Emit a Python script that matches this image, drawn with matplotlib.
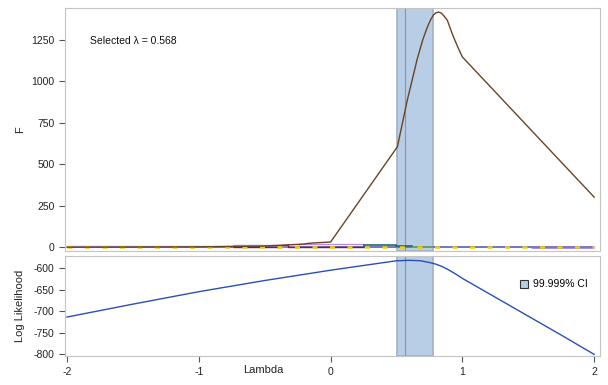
import numpy as np
import matplotlib.pyplot as plt
from matplotlib.patches import Patch

plt.rcParams['font.family'] = ['Liberation Sans', 'DejaVu Sans']
plt.rcParams['axes.unicode_minus'] = False

# selected lambda and 99.999% confidence interval
lam_sel = 0.568
ci_low, ci_high = 0.507, 0.78

# F statistic along lambda
lam_f = [-2, -1, -0.5, -0.2, -0.17, -0.1, 0, 0.507, 0.582, 0.62, 0.658, 0.7,
         0.734, 0.76, 0.78, 0.80, 0.82, 0.84, 0.86, 0.886, 0.93, 0.965, 1.0,
         2.0]
f_vals = [1, 3, 8, 20, 24, 28, 32, 605, 886, 1010, 1135, 1250,
          1325, 1370, 1397, 1411, 1415, 1409, 1392, 1365, 1270, 1205, 1145,
          302]

# small step series of the other effects (near zero)
violet_edges = [-2, -1.5, -0.74, -0.39, -0.24, 0.25]
violet_vals = [6, 9, 15, 11, 19]
purple_edges = [1.52, 2.0]
purple_vals = [5]
red_edges = [-0.74, -0.38, -0.32, 0.25]
red_vals = [3, 12, 3]
teal_edges = [0.25, 0.5, 0.58, 0.62]
teal_vals = [15, 10, 7]
green_edges = [0.62, 0.78]
green_vals = [4]
base_edges = [-2, 2]
base_vals = [2]
yellow_edges = [-2, 2]
yellow_vals = [0.5]

# profile log likelihood
lam_ll = [-2, -1.5, -1, -0.5, 0, 0.25, 0.5, 0.6, 0.68, 0.75, 0.8, 0.85,
          0.9, 0.95, 1.0, 1.25, 1.5, 1.75, 2]
ll_vals = [-713, -683, -654, -628, -604, -593, -582, -581, -582, -586,
           -590, -596, -604, -613, -623, -667, -711, -755, -800]

band_col = '#b8cde6'
band_edge = '#a3b1c4'
frame_col = '#c4c4c4'

fig = plt.figure(figsize=(6.08, 3.85), dpi=100)
ax1 = fig.add_axes([0.107, 0.348, 0.880, 0.631])
ax2 = fig.add_axes([0.107, 0.075, 0.880, 0.260])

for ax in (ax1, ax2):
    ax.axvspan(ci_low, ci_high, facecolor=band_col, edgecolor=band_edge,
               linewidth=1.2, zorder=1)
    ax.axvline(lam_sel, color='#8696ad', linewidth=0.8, zorder=2)
    ax.set_xlim(-2.015, 2.045)
    for s in ax.spines.values():
        s.set_color(frame_col)
    ax.tick_params(labelsize=7.5, colors='#555555', labelcolor='#222222',
                   length=4, width=0.8)

# top panel
ax1.stairs(base_vals, base_edges, color='#6f78c0', linewidth=1.4, zorder=3)
ax1.stairs(violet_vals, violet_edges, color='#b48cf2', linewidth=1.0, zorder=3)
ax1.stairs(purple_vals, purple_edges, color='#8872d6', linewidth=1.8, zorder=3)
ax1.stairs(red_vals, red_edges, color='#8b1a1a', linewidth=1.0, zorder=3)
ax1.stairs(teal_vals, teal_edges, color='#1e6b6b', linewidth=1.2, zorder=3)
ax1.stairs(green_vals, green_edges, color='#6aa84f', linewidth=1.2, zorder=3)
ax1.stairs(yellow_vals, yellow_edges, color='#f2cf00', linewidth=1.8,
           linestyle=(0, (2, 5)), zorder=4)
ax1.plot(lam_f, f_vals, color='#6b4423', linewidth=1.0, zorder=5)

ax1.set_ylim(-22, 1439)
ax1.set_yticks([0, 250, 500, 750, 1000, 1250])
ax1.set_xticks([])
ax1.set_ylabel('F', fontsize=8, color='#222222')
ax1.text(0.047, 0.864, 'Selected \u03bb = 0.568', transform=ax1.transAxes,
         fontsize=7.5, color='#111111', va='center')

# bottom panel
ax2.plot(lam_ll, ll_vals, color='#2850b8', linewidth=1.0, zorder=3)
ax2.set_ylim(-804, -571)
ax2.set_yticks([-600, -650, -700, -750, -800])
ax2.set_xticks([-2, -1, 0, 1, 2])
ax2.set_ylabel('Log Likelihood', fontsize=8, color='#222222')
ax1.yaxis.set_label_coords(-0.075, 0.5)
ax2.yaxis.set_label_coords(-0.075, 0.5)
fig.text(263 / 608, 1 - 370 / 385, 'Lambda', fontsize=8, color='#222222',
         ha='center', va='center')

ax2.legend(handles=[Patch(facecolor=band_col, edgecolor='#333333',
                          linewidth=0.8, label='99.999% CI')],
           loc='upper right', bbox_to_anchor=(0.995, 0.86), frameon=False,
           fontsize=7.5, handlelength=0.8, handleheight=0.8, handletextpad=0.5)

fig.savefig('out.png', dpi=100)
